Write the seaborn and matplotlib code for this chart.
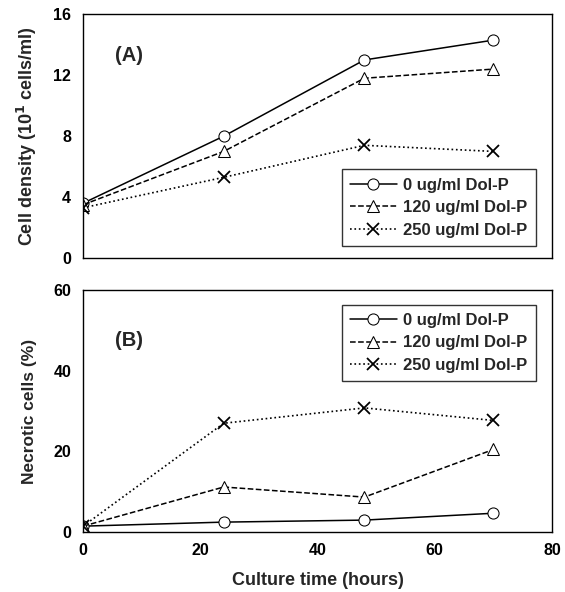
import matplotlib
matplotlib.use("Agg")
import matplotlib.pyplot as plt
import seaborn as sns
import pandas as pd

sns.set_style("white")
plt.rcParams['font.family'] = ['Liberation Sans', 'DejaVu Sans']
plt.rcParams['font.weight'] = 'bold'

hours = [0, 24, 48, 70]
series_names = ["0 ug/ml Dol-P", "120 ug/ml Dol-P", "250 ug/ml Dol-P"]
density_0 = [3.6, 8.0, 13.0, 14.3]
density_120 = [3.5, 7.0, 11.8, 12.4]
density_250 = [3.3, 5.3, 7.4, 7.0]
necrotic_0 = [1.5, 2.5, 3.0, 4.7]
necrotic_120 = [1.5, 11.2, 8.7, 20.5]
necrotic_250 = [1.5, 27.0, 30.8, 27.7]
xticks = [0, 20, 40, 60, 80]
density_ticks = [0, 4, 8, 12, 16]
necrotic_ticks = [0, 20, 40, 60]

styles = [
    dict(marker='o', linestyle='-', markersize=8, linewidth=1.1),
    dict(marker='^', linestyle='--', markersize=8, linewidth=1.1),
    dict(marker='x', linestyle=':', markersize=8, linewidth=1.2, markeredgewidth=1.3),
]

fig = plt.figure(figsize=(5.65, 5.92), dpi=100)
ax1 = fig.add_axes([0.147, 0.564, 0.830, 0.412])
ax2 = fig.add_axes([0.147, 0.101, 0.830, 0.409])

def draw(ax, ys):
    for name, y, st in zip(series_names, ys, styles):
        df = pd.DataFrame({"hours": hours, "value": y})
        sns.lineplot(data=df, x="hours", y="value", ax=ax, color='black',
                     markerfacecolor='white', markeredgecolor='black',
                     label=name, **st)
    ax.set_xlim(0, 80)
    ax.set_xticks(xticks)
    for s in ax.spines.values():
        s.set_color('black')
        s.set_linewidth(1.0)
    ax.tick_params(axis='x', direction='in', length=5, width=1, colors='black')
    ax.tick_params(axis='y', direction='out', length=5, width=1, colors='black', labelsize=11.5)
    ax.set_xlabel("")

def style_legend(leg):
    leg.get_frame().set_edgecolor('black')
    leg.get_frame().set_linewidth(1.0)
    leg.get_frame().set_boxstyle('square', pad=0.0)

draw(ax1, [density_0, density_120, density_250])
draw(ax2, [necrotic_0, necrotic_120, necrotic_250])

ax1.set_ylim(0, 16)
ax1.set_yticks(density_ticks)
ax1.set_xticklabels([])
ax1.set_ylabel("Cell density (10$^{\\mathbf{1}}$ cells/ml)", fontsize=13, fontweight='bold', labelpad=10)
ax1.text(0.068, 0.83, "(A)", transform=ax1.transAxes, fontsize=14.5, fontweight='bold', va='center')
leg1 = ax1.legend(loc='lower right', bbox_to_anchor=(0.966, 0.05), numpoints=1, fontsize=12,
                  frameon=True, fancybox=False, handlelength=2.8, borderpad=0.5,
                  labelspacing=0.45, handletextpad=0.4, borderaxespad=0.0)
style_legend(leg1)

ax2.set_ylim(0, 60)
ax2.set_yticks(necrotic_ticks)
ax2.tick_params(axis='x', labelsize=11.5, pad=8)
ax2.set_ylabel("Necrotic cells (%)", fontsize=12.5, fontweight='bold', labelpad=12)
ax2.set_xlabel("Culture time (hours)", fontsize=13, fontweight='bold', labelpad=10)
ax2.text(0.068, 0.79, "(B)", transform=ax2.transAxes, fontsize=14.5, fontweight='bold', va='center')
leg2 = ax2.legend(loc='upper right', bbox_to_anchor=(0.966, 0.94), numpoints=1, fontsize=12,
                  frameon=True, fancybox=False, handlelength=2.8, borderpad=0.5,
                  labelspacing=0.45, handletextpad=0.4, borderaxespad=0.0)
style_legend(leg2)

fig.savefig("out.png", dpi=100, facecolor='white')
